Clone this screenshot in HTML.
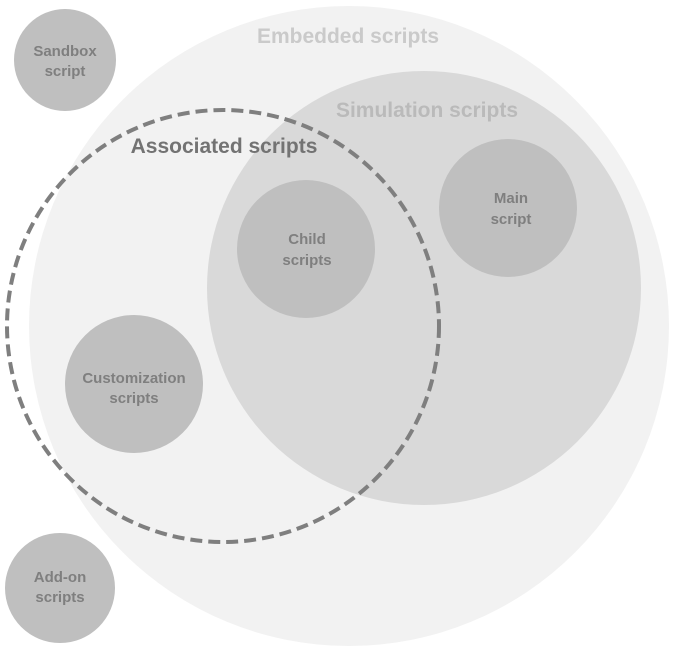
<!DOCTYPE html>
<html><head><meta charset="utf-8"><style>html,body{margin:0;padding:0;background:#fff}svg{display:block}text{font-family:"Liberation Sans","Noto Sans CJK KR",sans-serif;font-weight:bold;text-anchor:middle}</style></head>
<body>
<svg width="677" height="657" viewBox="0 0 677 657">
<circle cx="349" cy="326" r="320" fill="#f2f2f2"/>
<circle cx="424" cy="288" r="217" fill="#d9d9d9"/>
<circle cx="65" cy="60" r="51" fill="#bfbfbf"/>
<circle cx="60" cy="588" r="55" fill="#bfbfbf"/>
<circle cx="306" cy="249" r="69" fill="#bfbfbf"/>
<circle cx="508" cy="208" r="69" fill="#bfbfbf"/>
<circle cx="134" cy="384" r="69" fill="#bfbfbf"/>
<circle cx="223" cy="326" r="216" fill="none" stroke="#7f7f7f" stroke-width="4" stroke-dasharray="12 6"/>
<text x="348" y="43" font-size="21" fill="#cacaca">Embedded scripts</text>
<text x="427" y="117" font-size="21" fill="#bababa">Simulation scripts</text>
<text x="224" y="153" font-size="21" fill="#737373">Associated scripts</text>
<g font-size="15" fill="#7f7f7f">
<text x="65" y="56">Sandbox</text><text x="65" y="76">script</text>
<text x="60" y="582">Add-on</text><text x="60" y="602">scripts</text>
<text x="307" y="244">Child</text><text x="307" y="265">scripts</text>
<text x="511" y="203">Main</text><text x="511" y="224">script</text>
<text x="134" y="383">Customization</text><text x="134" y="403">scripts</text>
</g>
</svg>
</body></html>
